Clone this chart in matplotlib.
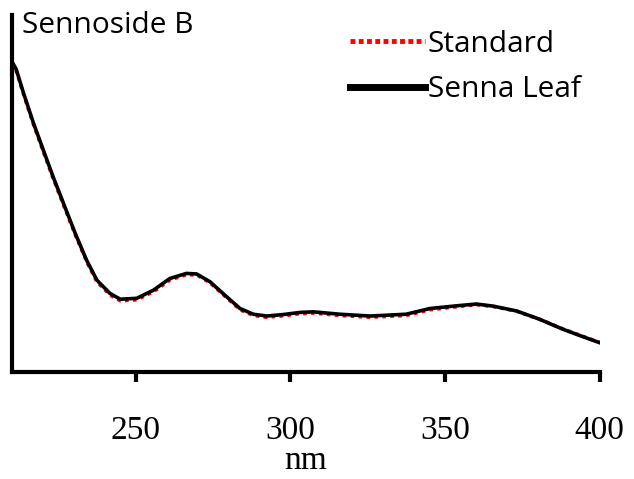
import matplotlib.pyplot as plt

# Wavelength (nm) and absorbance
wavelength = [210.0, 211.3, 213.7, 216.9, 220.1, 223.3, 226.6, 230.4, 234.1,
              237.4, 238.4, 241.7, 245.0, 250.3, 255.7, 261.0, 266.4, 269.7,
              274.0, 279.4, 283.7, 288.0, 292.3, 297.7, 303.1, 307.4, 316.0,
              325.7, 337.4, 345.1, 353.7, 360.1, 365.5, 373.1, 380.6, 388.1,
              394.6, 400.0]
senna_leaf = [1.033, 1.010, 0.930, 0.830, 0.740, 0.650, 0.563, 0.463, 0.373,
              0.307, 0.296, 0.262, 0.243, 0.246, 0.273, 0.312, 0.329, 0.327,
              0.301, 0.251, 0.212, 0.193, 0.187, 0.192, 0.199, 0.201, 0.193,
              0.187, 0.193, 0.212, 0.221, 0.227, 0.220, 0.204, 0.176, 0.143,
              0.118, 0.098]
standard = [1.030, 1.006, 0.926, 0.826, 0.735, 0.645, 0.558, 0.459, 0.369,
            0.302, 0.291, 0.257, 0.238, 0.241, 0.268, 0.307, 0.325, 0.324,
            0.298, 0.248, 0.208, 0.189, 0.183, 0.188, 0.195, 0.197, 0.189,
            0.183, 0.189, 0.208, 0.218, 0.225, 0.219, 0.203, 0.176, 0.144,
            0.119, 0.099]
x_ticks = [250, 300, 350, 400]


def main():
    fig = plt.figure(figsize=(6.34, 4.79), dpi=100)
    ax = fig.add_axes([0.019, 0.223, 0.927, 0.746])

    ax.plot(wavelength, standard, color='red', linestyle=(0, (1, 1.2)),
            linewidth=2.6, label='Standard')
    ax.plot(wavelength, senna_leaf, color='black', linewidth=2.6,
            label='Senna Leaf')

    ax.set_xlim(210, 400)
    ax.set_ylim(0, 1.19)

    for side in ['top', 'right']:
        ax.spines[side].set_visible(False)
    for side in ['left', 'bottom']:
        ax.spines[side].set_linewidth(3)

    ax.set_xticks(x_ticks)
    ax.set_xticklabels([str(t) for t in x_ticks], family='Liberation Serif',
                       fontsize=24)
    ax.tick_params(axis='x', direction='out', length=7, width=3, pad=24)
    ax.set_yticks([])
    ax.set_xlabel('nm', family='Liberation Serif', fontsize=24, labelpad=0)

    fig.text(22 / 634, 1 - 11 / 479, 'Sennoside B', family='Open Sans',
             fontsize=21.5, va='top', ha='left')

    leg = fig.legend(loc='upper left', bbox_to_anchor=(338 / 634, 1 - 18 / 479),
                     frameon=False, prop={'family': 'Open Sans', 'size': 21.5},
                     handlelength=2.5, handletextpad=0.1, labelspacing=0.55,
                     borderaxespad=0)
    leg.get_lines()[0].set_linewidth(3.5)
    leg.get_lines()[0].set_linestyle((0, (1, 0.7)))
    leg.get_lines()[1].set_linewidth(5)

    fig.savefig('out.png', dpi=100)


if __name__ == '__main__':
    main()
